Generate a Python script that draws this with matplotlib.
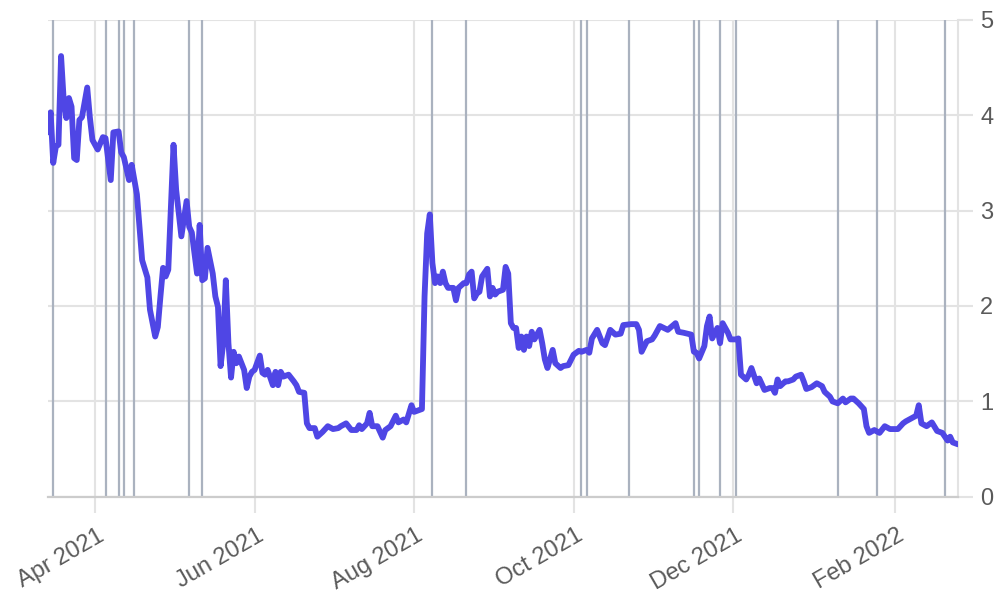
import matplotlib
matplotlib.use("Agg")
import matplotlib.pyplot as plt
import matplotlib.dates as mdates
import matplotlib.transforms as mtransforms
import pandas as pd

plt.rcParams['font.family'] = ['Liberation Sans', 'DejaVu Sans']

# values
dates = [
    "2021-03-14", "2021-03-15", "2021-03-16", "2021-03-17", "2021-03-18", "2021-03-19",
    "2021-03-20", "2021-03-21", "2021-03-22", "2021-03-23", "2021-03-24", "2021-03-25",
    "2021-03-26", "2021-03-27", "2021-03-29", "2021-03-30", "2021-03-31", "2021-04-02",
    "2021-04-04", "2021-04-05", "2021-04-07", "2021-04-08", "2021-04-10", "2021-04-11",
    "2021-04-12", "2021-04-14", "2021-04-15", "2021-04-17", "2021-04-19", "2021-04-21",
    "2021-04-22", "2021-04-24", "2021-04-25", "2021-04-26", "2021-04-27", "2021-04-28",
    "2021-04-29", "2021-05-01", "2021-05-02", "2021-05-04", "2021-05-06", "2021-05-07",
    "2021-05-08", "2021-05-10", "2021-05-11", "2021-05-12", "2021-05-13", "2021-05-14",
    "2021-05-16", "2021-05-17", "2021-05-18", "2021-05-19", "2021-05-20", "2021-05-21",
    "2021-05-22", "2021-05-23", "2021-05-24", "2021-05-25", "2021-05-26", "2021-05-28",
    "2021-05-29", "2021-05-30", "2021-05-31", "2021-06-01", "2021-06-03", "2021-06-04",
    "2021-06-05", "2021-06-06", "2021-06-08", "2021-06-09", "2021-06-10", "2021-06-11",
    "2021-06-12", "2021-06-14", "2021-06-16", "2021-06-17", "2021-06-18", "2021-06-20",
    "2021-06-21", "2021-06-22", "2021-06-24", "2021-06-25", "2021-06-27", "2021-06-29",
    "2021-07-01", "2021-07-03", "2021-07-04", "2021-07-06", "2021-07-08", "2021-07-10",
    "2021-07-11", "2021-07-12", "2021-07-14", "2021-07-15", "2021-07-16", "2021-07-18",
    "2021-07-20", "2021-07-21", "2021-07-23", "2021-07-25", "2021-07-26", "2021-07-28",
    "2021-07-29", "2021-07-31", "2021-08-01", "2021-08-03", "2021-08-04", "2021-08-05",
    "2021-08-06", "2021-08-07", "2021-08-08", "2021-08-09", "2021-08-10", "2021-08-11",
    "2021-08-12", "2021-08-13", "2021-08-14", "2021-08-16", "2021-08-17", "2021-08-18",
    "2021-08-20", "2021-08-21", "2021-08-22", "2021-08-23", "2021-08-24", "2021-08-25",
    "2021-08-26", "2021-08-27", "2021-08-29", "2021-08-30", "2021-08-31", "2021-09-01",
    "2021-09-02", "2021-09-04", "2021-09-05", "2021-09-06", "2021-09-07", "2021-09-08",
    "2021-09-09", "2021-09-10", "2021-09-11", "2021-09-12", "2021-09-13", "2021-09-14",
    "2021-09-15", "2021-09-16", "2021-09-18", "2021-09-19", "2021-09-20", "2021-09-21",
    "2021-09-23", "2021-09-24", "2021-09-26", "2021-09-27", "2021-09-29", "2021-10-01",
    "2021-10-03", "2021-10-04", "2021-10-06", "2021-10-07", "2021-10-08", "2021-10-10",
    "2021-10-12", "2021-10-13", "2021-10-15", "2021-10-17", "2021-10-19", "2021-10-20",
    "2021-10-23", "2021-10-25", "2021-10-26", "2021-10-27", "2021-10-29", "2021-10-31",
    "2021-11-01", "2021-11-03", "2021-11-06", "2021-11-09", "2021-11-10", "2021-11-12",
    "2021-11-15", "2021-11-16", "2021-11-17", "2021-11-18", "2021-11-20", "2021-11-21",
    "2021-11-22", "2021-11-23", "2021-11-25", "2021-11-26", "2021-11-27", "2021-11-29",
    "2021-11-30", "2021-12-02", "2021-12-03", "2021-12-04", "2021-12-06", "2021-12-07",
    "2021-12-08", "2021-12-10", "2021-12-11", "2021-12-13", "2021-12-15", "2021-12-16",
    "2021-12-17", "2021-12-18", "2021-12-19", "2021-12-21", "2021-12-22", "2021-12-24",
    "2021-12-25", "2021-12-27", "2021-12-28", "2021-12-29", "2021-12-31", "2022-01-02",
    "2022-01-04", "2022-01-05", "2022-01-07", "2022-01-08", "2022-01-10", "2022-01-12",
    "2022-01-13", "2022-01-15", "2022-01-16", "2022-01-18", "2022-01-20", "2022-01-21",
    "2022-01-22", "2022-01-24", "2022-01-26", "2022-01-28", "2022-01-30", "2022-02-02",
    "2022-02-04", "2022-02-05", "2022-02-07", "2022-02-09", "2022-02-10", "2022-02-11",
    "2022-02-13", "2022-02-15", "2022-02-17", "2022-02-19", "2022-02-21", "2022-02-22",
    "2022-02-23", "2022-02-25",
]
values = [
    3.82, 4.03, 3.50, 3.67, 3.69, 4.62,
    4.16, 3.97, 4.18, 4.09, 3.55, 3.53,
    3.95, 3.98, 4.29, 3.98, 3.74, 3.64,
    3.77, 3.76, 3.32, 3.82, 3.83, 3.61,
    3.56, 3.32, 3.48, 3.17, 2.48, 2.30,
    1.96, 1.68, 1.78, 2.10, 2.40, 2.31,
    2.38, 3.69, 3.22, 2.73, 3.10, 2.83,
    2.77, 2.34, 2.85, 2.27, 2.29, 2.61,
    2.34, 2.10, 1.99, 1.37, 1.61, 2.27,
    1.61, 1.25, 1.52, 1.40, 1.47, 1.33,
    1.14, 1.26, 1.31, 1.33, 1.48, 1.30,
    1.28, 1.33, 1.17, 1.31, 1.17, 1.31,
    1.26, 1.28, 1.21, 1.17, 1.10, 1.09,
    0.77, 0.72, 0.72, 0.63, 0.68, 0.74,
    0.71, 0.72, 0.74, 0.77, 0.70, 0.70,
    0.75, 0.71, 0.77, 0.88, 0.74, 0.74,
    0.62, 0.70, 0.74, 0.85, 0.78, 0.81,
    0.78, 0.96, 0.89, 0.91, 0.92, 2.10,
    2.76, 2.96, 2.45, 2.24, 2.31, 2.24,
    2.36, 2.24, 2.19, 2.19, 2.06, 2.19,
    2.24, 2.24, 2.33, 2.36, 2.08, 2.13,
    2.15, 2.31, 2.39, 2.10, 2.19, 2.12,
    2.15, 2.17, 2.41, 2.34, 1.82, 1.77,
    1.77, 1.56, 1.68, 1.54, 1.68, 1.58,
    1.73, 1.65, 1.75, 1.61, 1.44, 1.35,
    1.54, 1.40, 1.35, 1.37, 1.38, 1.49,
    1.53, 1.52, 1.54, 1.51, 1.66, 1.75,
    1.61, 1.59, 1.75, 1.70, 1.71, 1.80,
    1.81, 1.81, 1.75, 1.52, 1.63, 1.65,
    1.69, 1.79, 1.75, 1.82, 1.73, 1.72,
    1.70, 1.52, 1.51, 1.45, 1.58, 1.79,
    1.89, 1.66, 1.77, 1.61, 1.82, 1.72,
    1.65, 1.65, 1.66, 1.28, 1.23, 1.28,
    1.35, 1.19, 1.24, 1.12, 1.14, 1.14,
    1.09, 1.23, 1.16, 1.21, 1.21, 1.23,
    1.26, 1.28, 1.21, 1.13, 1.15, 1.19,
    1.16, 1.10, 1.05, 1.00, 0.98, 1.03,
    0.99, 1.03, 1.03, 0.98, 0.92, 0.74,
    0.67, 0.70, 0.67, 0.74, 0.71, 0.71,
    0.77, 0.79, 0.82, 0.85, 0.96, 0.77,
    0.74, 0.78, 0.69, 0.67, 0.59, 0.63,
    0.57, 0.55,
]
event_dates = [
    "2021-03-16", "2021-04-05", "2021-04-10", "2021-04-12", "2021-04-16",
    "2021-05-07", "2021-05-12", "2021-08-08", "2021-08-21", "2021-10-04",
    "2021-10-06", "2021-10-22", "2021-11-16", "2021-11-18", "2021-11-26",
    "2021-12-02", "2022-01-10", "2022-01-25", "2022-02-20",
]

x = pd.to_datetime(dates)
events = pd.to_datetime(event_dates)

grid_col = '#e3e3e3'
fig = plt.figure(figsize=(10, 6), dpi=100)
ax = fig.add_axes([0.048, 0.172, 0.910, 0.795])

for d in events:
    ax.axvline(d, color='#aab2bf', lw=1.6, zorder=2)

ax.plot(x, values, color='#4f46e5', lw=4.2, solid_joinstyle='round',
        solid_capstyle='round', zorder=3)

ax.set_xlim(x[0], x[-1])
ax.set_ylim(0, 5)
ax.set_yticks([0, 1, 2, 3, 4, 5])
ax.xaxis.set_major_locator(mdates.MonthLocator(bymonth=[2, 4, 6, 8, 10, 12]))
ax.xaxis.set_major_formatter(mdates.DateFormatter('%b %Y'))
ax.yaxis.tick_right()

ax.grid(True, color=grid_col, lw=1.5, zorder=0)
ax.set_axisbelow(True)
for s in ['left', 'top']:
    ax.spines[s].set_visible(False)
ax.spines['bottom'].set_color('#cccccc')
ax.spines['bottom'].set_linewidth(1.6)
ax.spines['right'].set_color(grid_col)
ax.spines['right'].set_linewidth(1.5)

ax.tick_params(axis='y', length=11, width=1.5, color=grid_col, pad=5,
               labelsize=17, labelcolor='#5a5a5a')
ax.tick_params(axis='x', length=11.5, width=1.5, color=grid_col, pad=0,
               labelsize=17, labelcolor='#5a5a5a')
shift = mtransforms.ScaledTranslation(0.02, -0.12, fig.dpi_scale_trans)
for lbl in ax.get_xticklabels():
    lbl.set_rotation(30)
    lbl.set_ha('right')
    lbl.set_va('top')
    lbl.set_rotation_mode('anchor')
    lbl.set_transform(lbl.get_transform() + shift)

fig.savefig('out.png', dpi=100)
